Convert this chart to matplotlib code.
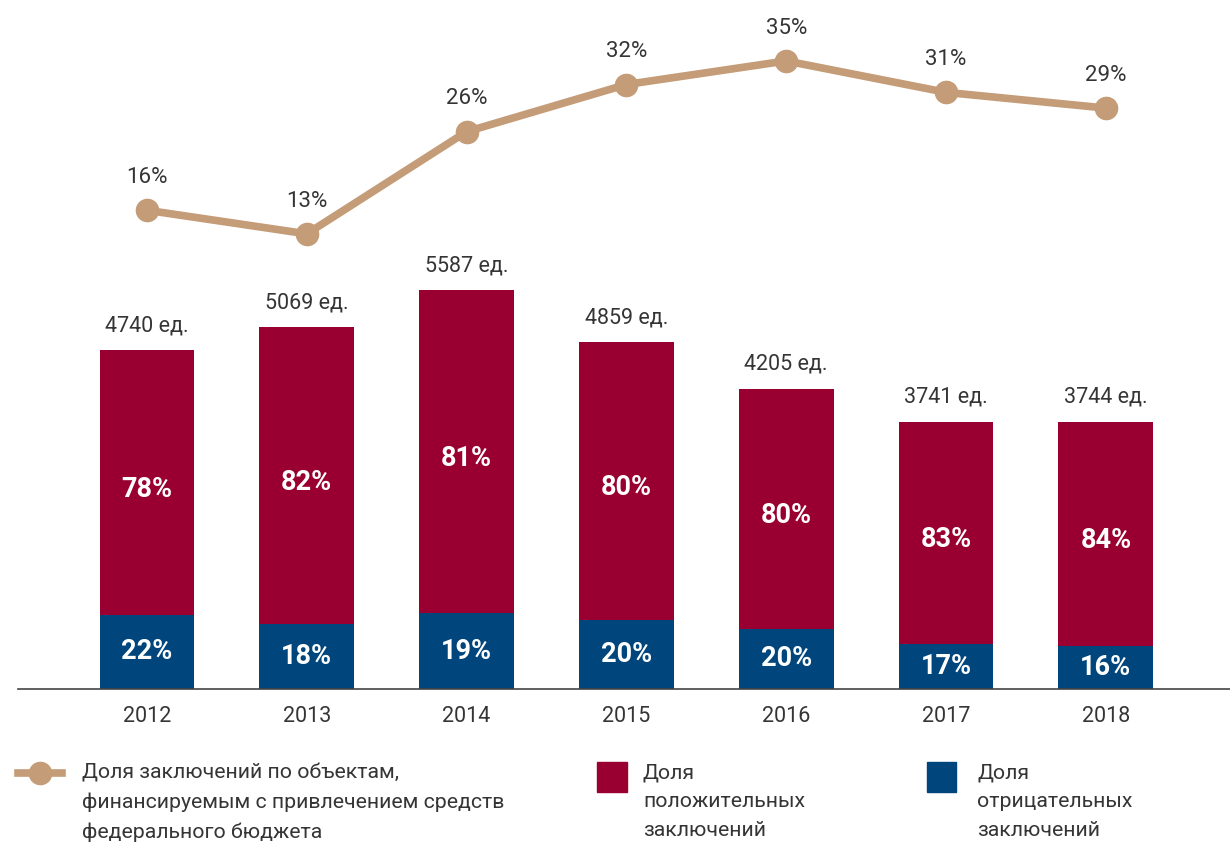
import matplotlib
matplotlib.use("Agg")
import matplotlib.pyplot as plt
from matplotlib.patches import Rectangle
from matplotlib.lines import Line2D

plt.rcParams['font.family'] = ['Roboto', 'DejaVu Sans']

years = ['2012', '2013', '2014', '2015', '2016', '2017', '2018']
totals = [4740, 5069, 5587, 4859, 4205, 3741, 3744]
positive_pct = [78, 82, 81, 80, 80, 83, 84]
negative_pct = [22, 18, 19, 20, 20, 17, 16]
federal_pct = [16, 13, 26, 32, 35, 31, 29]

legend_line = "Доля заключений по объектам,\nфинансируемым с привлечением средств\nфедерального бюджета"
legend_pos = "Доля\nположительных\nзаключений"
legend_neg = "Доля\nотрицательных\nзаключений"

C_POS = '#990031'
C_NEG = '#00457c'
C_LINE = '#c49c78'
C_TXT = '#353535'

W, H = 1230, 844
fig = plt.figure(figsize=(W / 100, H / 100), dpi=100)
ax = fig.add_axes([18 / W, (H - 689) / H, 1 - 18 / W, 689 / H])

x = list(range(len(years)))
neg_vals = [t * n / 100 for t, n in zip(totals, negative_pct)]
pos_vals = [t - nv for t, nv in zip(totals, neg_vals)]

bw = 0.594
ax.bar(x, neg_vals, width=bw, color=C_NEG, zorder=2)
ax.bar(x, pos_vals, width=bw, bottom=neg_vals, color=C_POS, zorder=2)

ax.set_xlim(-0.807, 6.777)
ax.set_ylim(0, 9647)

for i in x:
    ax.annotate(f"{positive_pct[i]}%", (i, neg_vals[i] + pos_vals[i] / 2), xytext=(0, -5),
                textcoords='offset points', ha='center', va='center',
                color='white', fontsize=19.5, fontweight='bold', zorder=3)
    ax.text(i, neg_vals[i] / 2, f"{negative_pct[i]}%", ha='center', va='center',
            color='white', fontsize=19.5, fontweight='bold', zorder=3)
    ax.annotate(f"{totals[i]} ед.", (i, totals[i]), xytext=(0, 10), textcoords='offset points',
                ha='center', va='bottom', fontsize=15.5, color=C_TXT)

for s in ['top', 'right', 'left']:
    ax.spines[s].set_visible(False)
ax.spines['bottom'].set_color('#444444')
ax.spines['bottom'].set_linewidth(1.2)
ax.set_yticks([])
ax.set_xticks(x)
ax.set_xticklabels(years, fontsize=15.5, color=C_TXT)
ax.tick_params(axis='x', length=0, pad=12)

ax2 = ax.twinx()
ax2.set_ylim(-44.9, 42.75)
ax2.plot(x, federal_pct, color=C_LINE, lw=5.5, marker='o', markersize=16,
         solid_capstyle='round', zorder=4)
for i in x:
    ax2.annotate(f"{federal_pct[i]}%", (i, federal_pct[i]), xytext=(0, 16), textcoords='offset points',
                 ha='center', va='bottom', fontsize=16, color=C_TXT)
ax2.axis('off')

# Legend drawn in figure pixel coordinates
def fx(px):
    return px / W

def fy(py):
    return 1 - py / H

fig.add_artist(Line2D([fx(18), fx(62)], [fy(773), fy(773)], color=C_LINE, lw=5.5,
                      transform=fig.transFigure))
fig.add_artist(Line2D([fx(40)], [fy(773)], color=C_LINE, marker='o', markersize=16,
                      transform=fig.transFigure))
leg_kw = dict(ha='left', va='top', fontsize=15.3, color=C_TXT, linespacing=1.68)
fig.text(fx(82), fy(763), legend_line, **leg_kw)

fig.add_artist(Rectangle((fx(597), fy(792)), fx(30), 30 / H, color=C_POS, transform=fig.transFigure))
fig.text(fx(643), fy(763), legend_pos, **leg_kw)

fig.add_artist(Rectangle((fx(927), fy(792)), fx(29), 30 / H, color=C_NEG, transform=fig.transFigure))
fig.text(fx(977), fy(763), legend_neg, **leg_kw)

fig.savefig('out.png', dpi=100, facecolor='white')
